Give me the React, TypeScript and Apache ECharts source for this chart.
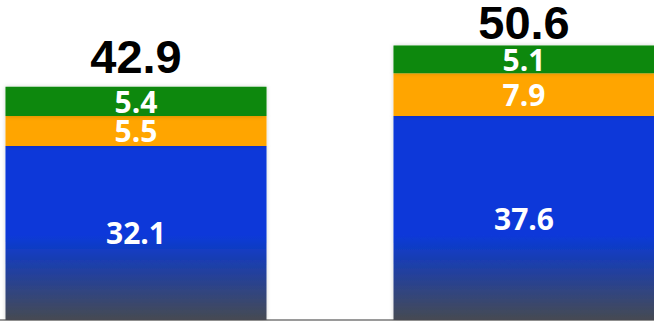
import React, { useEffect, useRef } from "react";
import * as echarts from "echarts";

const categories = ["Bar 1", "Bar 2"];
const baseValues = [32.1, 37.6];
const middleValues = [5.5, 7.9];
const topValues = [5.4, 5.1];
const totals = [42.9, 50.6];

export default function App() {
  const ref = useRef<HTMLDivElement>(null);
  useEffect(() => {
    if (!ref.current) return;
    const chart = echarts.init(ref.current, undefined, { renderer: "svg" });
    const innerLabel = {
      show: true,
      position: "inside",
      color: "#ffffff",
      fontFamily: "Open Sans",
      fontWeight: "bold",
      fontSize: 30,
      lineHeight: 26,
    };
    const shadow = { shadowBlur: 4, shadowColor: "rgba(0,0,0,0.18)" };
    chart.setOption({
      animation: false,
      grid: { left: 0, right: 0, top: 0, bottom: 1, containLabel: false },
      xAxis: {
        type: "category",
        data: categories,
        axisLine: { show: true, lineStyle: { color: "#9a9a9a", width: 2 } },
        axisTick: { show: false },
        axisLabel: { show: false },
      },
      yAxis: {
        type: "value",
        min: 0,
        max: 59,
        show: false,
        splitLine: { show: false },
      },
      series: [
        {
          name: "Base",
          type: "bar",
          stack: "total",
          barWidth: 261,
          data: baseValues,
          itemStyle: {
            ...shadow,
            color: new echarts.graphic.LinearGradient(
              0,
              235,
              0,
              320,
              [
                { offset: 0, color: "#0739d9" },
                { offset: 1, color: "#464a52" },
              ],
              true
            ),
          },
          label: innerLabel,
        },
        {
          name: "Middle",
          type: "bar",
          stack: "total",
          barWidth: 261,
          data: middleValues,
          itemStyle: { ...shadow, color: "#ffa503" },
          label: innerLabel,
        },
        {
          name: "Top",
          type: "bar",
          stack: "total",
          barWidth: 261,
          data: topValues,
          itemStyle: { ...shadow, color: "#078808" },
          label: innerLabel,
        },
        {
          name: "Total",
          type: "bar",
          barWidth: 261,
          barGap: "-100%",
          z: 1,
          data: totals.map((v, i) => ({
            value: v,
            label: { distance: i === 0 ? 12 : 4 },
          })),
          itemStyle: { color: "rgba(0,0,0,0)" },
          label: {
            show: true,
            position: "top",
            color: "#000000",
            fontFamily: "Liberation Sans",
            fontWeight: "bold",
            fontSize: 47,
            lineHeight: 38,
          },
        },
      ],
    });
    return () => chart.dispose();
  }, []);
  return (
    <div
      style={{
        position: "absolute",
        left: 0,
        top: 0,
        width: 654,
        height: 321,
        overflow: "hidden",
      }}
    >
      <div
        ref={ref}
        style={{ position: "absolute", left: -58, top: 0, width: 776, height: 321 }}
      />
    </div>
  );
}
